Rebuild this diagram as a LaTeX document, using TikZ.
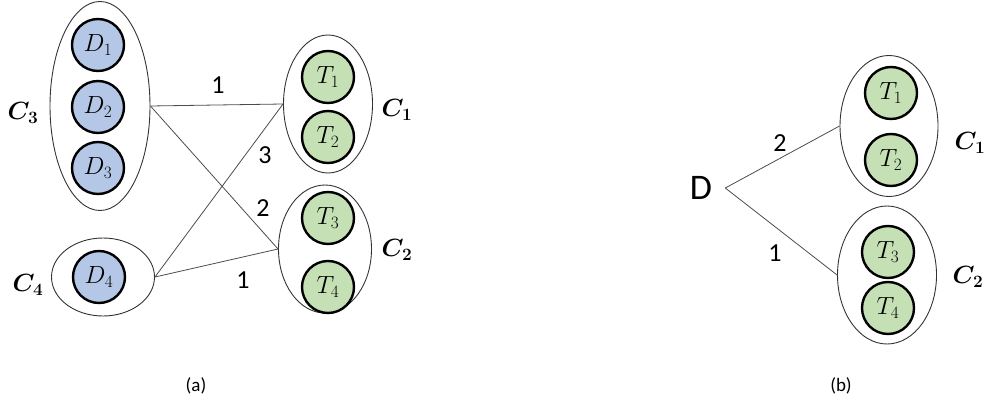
\documentclass[tikz,border=0pt]{standalone}
\usepackage{amsmath,bm}
\usepackage{fontspec}
\newfontfamily\calib{Carlito}
\usetikzlibrary{shapes.geometric}
\definecolor{dblue}{HTML}{B4C7E7}
\definecolor{tgreen}{HTML}{C5E0B4}
\tikzset{
  grp/.style={draw=black!80, line width=0.9pt, ellipse, inner sep=0pt},
  dnode/.style={circle, draw=black, line width=2.4pt, fill=dblue, minimum size=52pt, inner sep=0pt, font=\fontsize{25}{30}\selectfont},
  tnode/.style={circle, draw=black, line width=2.4pt, fill=tgreen, minimum size=52pt, inner sep=0pt, font=\fontsize{25}{30}\selectfont},
  wlab/.style={font=\calib\fontsize{26}{30}\selectfont, inner sep=0pt},
  clab/.style={font=\fontsize{26}{30}\selectfont, inner sep=0pt},
  link/.style={draw=black!70, line width=0.8pt},
  captext/.style={font=\calib\fontsize{19}{22}\selectfont, inner sep=0pt}
}
\begin{document}
\begin{tikzpicture}[x=1pt,y=-1pt]
\useasboundingbox (0,0) rectangle (992,409);
% ---------- panel (a) ----------
\node[grp, minimum width=100pt, minimum height=209pt] (C3) at (100,106) {};
\node[dnode] (D1) at (98,45) {$D_1$};
\node[dnode] (D2) at (98,107) {$D_2$};
\node[dnode] (D3) at (98,168) {$D_3$};
\node[grp, minimum width=103pt, minimum height=78pt] (C4) at (103,277) {};
\node[dnode] (D4) at (99,277) {$D_4$};
\node[grp, minimum width=89pt, minimum height=138pt] (C1) at (328,104) {};
\node[tnode] (T1) at (328,77) {$T_1$};
\node[tnode] (T2) at (328,137) {$T_2$};
\node[grp, minimum width=93pt, minimum height=128pt] (C2) at (325,249) {};
\node[tnode] (T3) at (328,218) {$T_3$};
\node[tnode] (T4) at (328,287) {$T_4$};
\draw[link] (C3.east) -- (C1.west);
\draw[link] (C3.east) -- (C2.west);
\draw[link] (C4.east) -- (C1.west);
\draw[link] (C4.east) -- (C2.west);
\node[wlab] (w1) at (218,85) {1};
\node[wlab] (w2) at (265,155) {3};
\node[wlab] (w3) at (263,208) {2};
\node[wlab] (w4) at (243,280) {1};
\node[clab] (lC3) at (23,113) {$\bm{C}_{\bm 3}$};
\node[clab] (lC4) at (28,285) {$\bm{C}_{\bm 4}$};
\node[clab] (lC1) at (397,110) {$\bm{C}_{\bm 1}$};
\node[clab] (lC2) at (397,250) {$\bm{C}_{\bm 2}$};
\node[captext] (capa) at (196,386) {(a)};
% ---------- panel (b) ----------
\node[font=\calib\fontsize{36}{40}\selectfont, inner sep=0pt] (D) at (701,188) {D};
\node[grp, minimum width=98pt, minimum height=141pt] (B1) at (889,126) {};
\node[tnode] (U1) at (891,93) {$T_1$};
\node[tnode] (U2) at (891,160) {$T_2$};
\node[grp, minimum width=99pt, minimum height=138pt] (B2) at (887,275) {};
\node[tnode] (U3) at (888,252) {$T_3$};
\node[tnode] (U4) at (888,308) {$T_4$};
\draw[link] ([xshift=13pt]D.east) -- (B1.west);
\draw[link] ([xshift=13pt]D.east) -- (B2.west);
\node[wlab] (v1) at (780,143) {2};
\node[wlab] (v2) at (775,253) {1};
\node[clab] (lB1) at (970,143) {$\bm{C}_{\bm 1}$};
\node[clab] (lB2) at (968,277) {$\bm{C}_{\bm 2}$};
\node[captext] (capb) at (841,386) {(b)};
\end{tikzpicture}
\end{document}
